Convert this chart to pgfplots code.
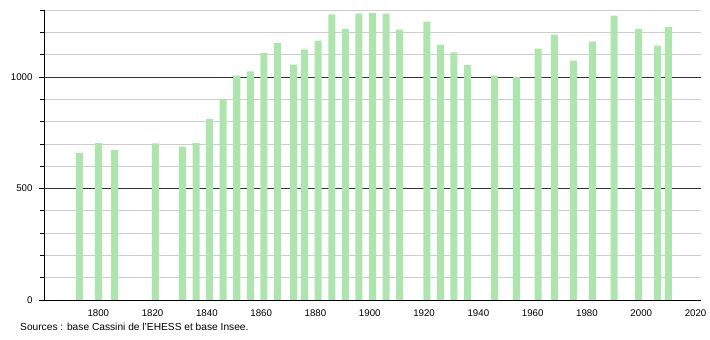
\documentclass[border=0pt]{standalone}
\usepackage{fontspec}
\setmainfont{Liberation Sans}
\usepackage{pgfplots}
\pgfplotsset{compat=1.18}
\definecolor{bargreen}{RGB}{174,228,174}
\begin{document}
\begin{tikzpicture}[x=1pt,y=1pt]
\useasboundingbox (0,0) rectangle (710,340);
\begin{axis}[
  at={(44pt,40pt)}, anchor=south west,
  scale only axis, width=657pt, height=290pt,
  xmin=1780, xmax=2022, ymin=0, ymax=1300,
  axis x line=bottom, axis y line=left,
  axis line style={black, line width=0.8pt, -},
  xtick={1800,1820,...,2020},
  ytick={0,500,1000},
  minor ytick={100,200,300,400,600,700,800,900,1100,1200,1300},
  ymajorgrids, yminorgrids,
  major grid style={black!80, line width=0.6pt},
  minor grid style={black!20, line width=0.6pt},
  tick align=outside,
  major tick length=5pt, minor tick length=4pt,
  xtick style={draw=none},
  ytick style={black, line width=0.6pt},
  minor tick style={black, line width=0.6pt},
  tick label style={font=\fontsize{9.7}{11}\selectfont},
  /pgf/number format/assume math mode=true,
  /pgf/number format/1000 sep={},
  yticklabel style={xshift=-3pt},
  xticklabel style={yshift=-1pt},
  clip=false,
]
\addplot[ybar, bar width=2.6, fill=bargreen, draw=none] coordinates {
(1793,659) (1800,703) (1806,673) (1821,702) (1831,688) (1836,703)
(1841,811) (1846,902) (1851,1006) (1856,1025) (1861,1108) (1866,1152)
(1872,1055) (1876,1123) (1881,1163) (1886,1280) (1891,1215) (1896,1284)
(1901,1287) (1906,1284) (1911,1212) (1921,1248) (1926,1145) (1931,1110)
(1936,1054) (1946,1006) (1954,1000) (1962,1127) (1968,1190) (1975,1073)
(1982,1158) (1990,1275) (1999,1215) (2006,1140) (2010,1224)
};
\end{axis}
\node[anchor=west, inner sep=0pt, font=\fontsize{10.2}{12}\selectfont] at (20,13) {Sources : base Cassini de l'EHESS et base Insee.};
\end{tikzpicture}
\end{document}
